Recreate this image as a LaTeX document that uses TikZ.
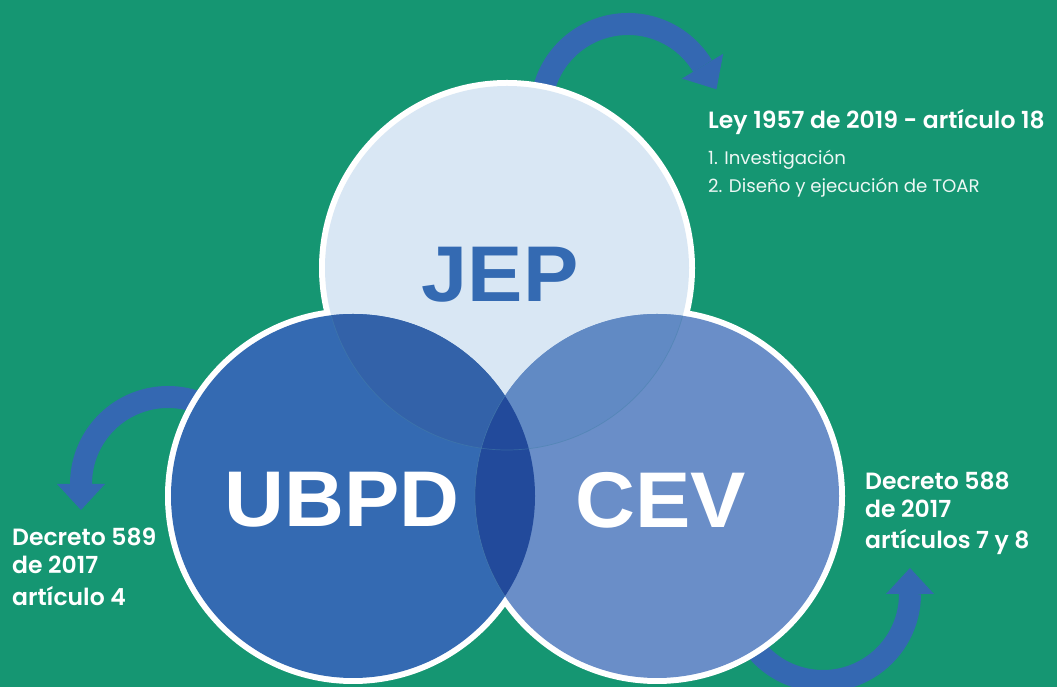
\documentclass[tikz,border=0pt]{standalone}
\usepackage{fontspec}
\setmainfont{Poppins}[BoldFont={Poppins SemiBold}]
\newfontfamily\bigfont[FakeStretch=1.05]{Liberation Sans}
\usetikzlibrary{calc}

\definecolor{bggreen}{RGB}{21,150,114}
\definecolor{arrowblue}{RGB}{52,104,178}
\definecolor{jepfill}{RGB}{217,231,244}
\definecolor{ubpdfill}{RGB}{52,106,178}
\definecolor{cevfill}{RGB}{106,142,200}
\definecolor{ubpdjep}{RGB}{51,98,169}
\definecolor{cevjep}{RGB}{97,138,196}
\definecolor{lensfill}{RGB}{34,74,155}
\definecolor{edgeline}{RGB}{70,130,170}

\tikzset{
	band/.style={draw=arrowblue, line width=22pt},
	bigname/.style={font=\bigfont\bfseries\fontsize{79}{79}\selectfont, inner sep=0pt},
	lawhead/.style={font=\bfseries\fontsize{23.5}{28}\selectfont, text=white, inner sep=0pt, anchor=base west},
	lawitem/.style={font=\fontsize{18.2}{22}\selectfont, text=white!92!bggreen, inner sep=0pt, anchor=base west},
}

\begin{document}
\begin{tikzpicture}[x=1pt,y=1pt]
			%%%%% START %%%%%
			\fill[bggreen] (0,0) rectangle (1057,687);
			\useasboundingbox (0,0) rectangle (1057,687);
			
			\coordinate (jep) at (507,419);
			\coordinate (ubpd) at (353,191);
			\coordinate (cev) at (657,191);
			\coordinate (toparc) at (628,576);
			\coordinate (leftarc) at (168,203);
			\coordinate (rightarc) at (823,93);
			
			% curved arrows behind the circles
			\draw[band] ($(toparc)+(190:87)$) arc (190:31:87);
			\fill[arrowblue] ($(toparc)+(31:111)$) -- ($(toparc)+(31:63)$) -- ($(toparc)+(31:87)+(-59:27)$) -- cycle;
			
			\draw[band] ($(leftarc)+(50:87)$) arc (50:180:87);
			\fill[arrowblue] ($(leftarc)+(180:111)$) -- ($(leftarc)+(180:63)$) -- ($(leftarc)+(180:87)+(270:26)$) -- cycle;
			
			\draw[band] ($(rightarc)+(215:87)$) arc (215:360:87);
			\fill[arrowblue] ($(rightarc)+(0:63)$) -- ($(rightarc)+(0:111)$) -- ($(rightarc)+(0:87)+(90:26)$) -- cycle;
			
			% white rims, then fills
			\fill[white] (jep) circle (188);
			\fill[white] (ubpd) circle (188);
			\fill[white] (cev) circle (188);
			
			\fill[jepfill] (jep) circle (182);
			\fill[ubpdfill] (ubpd) circle (182);
			\fill[cevfill] (cev) circle (182);
			
			\begin{scope}
				\clip (ubpd) circle (182);
				\fill[ubpdjep] (jep) circle (182);
			\end{scope}
			\begin{scope}
				\clip (cev) circle (182);
				\fill[cevjep] (jep) circle (182);
			\end{scope}
			\begin{scope}
				\clip (ubpd) circle (182);
				\fill[lensfill] (cev) circle (182);
			\end{scope}
			
			\begin{scope}
				\clip (ubpd) circle (182) (cev) circle (182);
				\draw[edgeline, line width=0.7pt, opacity=0.5] (jep) circle (182);
			\end{scope}
			\begin{scope}
				\clip (ubpd) circle (182);
				\draw[edgeline, line width=0.7pt, opacity=0.5] (cev) circle (182);
			\end{scope}
			
			\node[bigname, text=ubpdfill] (jepname) at (500,412) {JEP};
			\node[bigname, text=white] (ubpdname) at (342,187) {UBPD};
			\node[bigname, text=white] (cevname) at (661,187) {CEV};
			
			% legal texts
			\node[lawhead] (leyline) at (708,558) {Ley 1957 de 2019 - artículo 18};
			\node[lawitem] (itemone) at (708,522) {1. Investigación};
			\node[lawitem] (itemtwo) at (708,494) {2. Diseño y ejecución de TOAR};
			
			\node[lawhead] (leftone) at (12,141) {Decreto 589};
			\node[lawhead] (lefttwo) at (12,113) {de 2017};
			\node[lawhead] (leftthree) at (12,81) {artículo 4};
			
			\node[lawhead] (rightone) at (865,197) {Decreto 588};
			\node[lawhead] (righttwo) at (865,169) {de 2017};
			\node[lawhead] (rightthree) at (865,138) {artículos 7 y 8};
			%%%%% END %%%%%
\end{tikzpicture}
\end{document}
